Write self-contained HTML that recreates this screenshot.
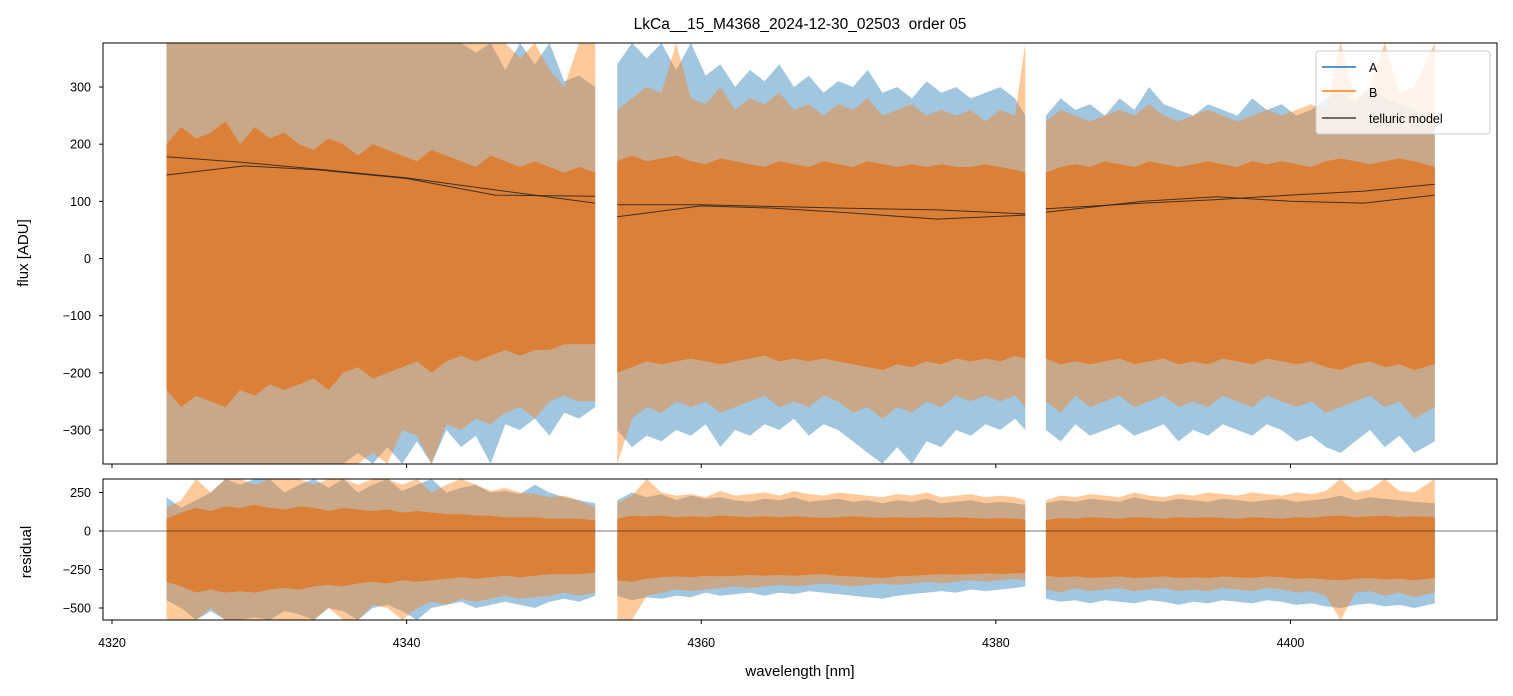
<!DOCTYPE html>
<html><head><meta charset="utf-8"><style>
body{margin:0;background:#fff;}
svg{display:block;font-family:"Liberation Sans","DejaVu Sans",sans-serif;}
</style></head><body>
<svg id="chart" width="1513" height="696" viewBox="0 0 1513 696" xmlns="http://www.w3.org/2000/svg">
<defs>
<clipPath id="clipTop"><rect x="103" y="43" width="1394" height="421"/></clipPath>
<clipPath id="clipBot"><rect x="103" y="479" width="1394" height="141"/></clipPath>
</defs>
<text x="800" y="29" font-size="15.5" text-anchor="middle" style="white-space:pre">LkCa__15_M4368_2024-12-30_02503  order 05</text>
<g id="topPanel" clip-path="url(#clipTop)"></g>
<g id="botPanel" clip-path="url(#clipBot)"></g>
<g id="axes"></g>
<text transform="translate(28,253) rotate(-90)" font-size="15" text-anchor="middle">flux [ADU]</text>
<text transform="translate(31,552) rotate(-90)" font-size="15" text-anchor="middle">residual</text>
<text x="800" y="676" font-size="15" text-anchor="middle">wavelength [nm]</text>
<g>
<rect x="1316" y="51" width="174" height="83" rx="3" fill="#fff" fill-opacity="0.8" stroke="#ccc"/>
<line x1="1322" y1="67" x2="1356" y2="67" stroke="#1f77b4" stroke-width="1.5"/>
<text x="1369" y="72" font-size="12.5">A</text>
<line x1="1322" y1="91" x2="1356" y2="91" stroke="#ff7f0e" stroke-width="1.5"/>
<text x="1369" y="97" font-size="12.5">B</text>
<line x1="1322" y1="118" x2="1356" y2="118" stroke="#444" stroke-width="1.5"/>
<text x="1369" y="123" font-size="12.5">telluric model</text>
</g>
</svg>
<script>
// segments: start, end wavelength (nm)
const segStart = [4323.7, 4354.3, 4383.4];
const segEnd = [4352.8, 4382.0, 4409.8];
// top panel envelopes (ADU), 1 nm bins per segment
const aHi = [
[377,377,377,377,377,377,377,377,377,377,377,377,377,377,377,377,377,377,377,377,377,360,377,330,377,340,377,310,320,300],
[340,377,350,377,330,377,320,340,300,330,310,340,300,320,290,310,300,330,290,300,280,310,290,300,280,290,300,280,250],
[250,280,260,270,250,280,260,300,270,260,250,270,260,250,280,260,270,250,260,280,290,270,300,280,270,260,250]];
const aLo = [
[-359,-359,-359,-359,-359,-359,-359,-359,-359,-359,-359,-359,-359,-340,-359,-330,-359,-320,-359,-300,-330,-310,-359,-290,-300,-280,-310,-270,-280,-260],
[-300,-330,-310,-320,-300,-310,-290,-330,-300,-310,-290,-300,-280,-310,-290,-300,-320,-340,-359,-330,-359,-320,-330,-300,-310,-290,-300,-280,-300],
[-300,-320,-290,-310,-300,-290,-310,-300,-290,-320,-300,-310,-290,-300,-310,-290,-300,-320,-310,-330,-340,-320,-300,-330,-310,-340,-320]];
const bHi = [
[377,377,377,377,377,377,377,377,377,377,377,377,377,377,377,377,377,377,377,377,377,377,377,377,350,377,330,300,377,377],
[260,280,300,290,377,280,270,300,260,280,270,290,260,270,250,270,260,280,250,260,270,250,260,250,260,240,260,250,377],
[240,260,250,240,250,260,250,270,250,240,250,260,250,240,250,260,250,260,270,260,377,280,300,377,290,300,377]];
const bLo = [
[-359,-359,-359,-359,-359,-359,-359,-359,-359,-359,-359,-359,-359,-359,-340,-359,-300,-310,-359,-290,-300,-280,-290,-270,-260,-280,-250,-240,-250,-250],
[-359,-280,-260,-270,-250,-260,-250,-270,-260,-250,-240,-260,-250,-260,-240,-250,-270,-260,-280,-260,-270,-250,-260,-240,-250,-240,-250,-240,-260],
[-250,-270,-240,-260,-250,-240,-260,-250,-240,-260,-250,-260,-240,-250,-260,-240,-250,-260,-250,-270,-260,-250,-240,-260,-250,-280,-260]];
const cHi = [
[200,230,210,220,240,200,230,210,220,200,190,210,200,180,200,190,180,170,190,180,170,160,180,170,160,170,160,150,160,150],
[170,180,170,175,180,170,165,175,170,165,160,170,165,160,170,165,160,170,165,160,165,160,165,160,160,165,160,155,150],
[150,160,165,160,170,165,160,170,165,160,165,170,165,160,170,165,170,165,160,170,175,170,165,170,175,170,160]];
const cLo = [
[-230,-260,-240,-250,-260,-230,-240,-220,-230,-220,-210,-230,-200,-190,-210,-200,-190,-180,-200,-180,-170,-180,-170,-160,-170,-160,-160,-150,-150,-150],
[-200,-190,-180,-185,-180,-175,-180,-185,-180,-175,-170,-180,-175,-180,-175,-180,-185,-190,-195,-185,-190,-180,-185,-175,-180,-175,-180,-170,-175],
[-175,-185,-180,-185,-180,-175,-185,-180,-175,-185,-180,-185,-175,-180,-185,-175,-180,-185,-180,-190,-195,-185,-180,-190,-185,-195,-185]];
// residual envelopes
const rAHi = [
[220,150,200,250,338,300,338,338,250,300,338,280,338,250,300,338,260,300,338,250,280,300,250,260,240,300,250,220,200,180],
[200,250,220,240,200,230,210,220,200,190,210,200,220,190,200,210,190,200,180,200,190,210,180,190,200,180,190,180,170],
[180,200,190,210,200,190,220,200,190,210,200,190,210,200,190,200,210,190,200,210,230,200,220,210,200,190,180]];
const rALo = [
[-450,-500,-578,-520,-578,-578,-560,-578,-520,-540,-578,-500,-520,-578,-500,-480,-520,-578,-500,-480,-460,-500,-480,-460,-480,-500,-460,-440,-460,-420],
[-420,-450,-430,-440,-420,-430,-400,-420,-410,-400,-420,-400,-410,-390,-400,-410,-420,-430,-440,-420,-410,-400,-390,-400,-380,-390,-380,-370,-360],
[-440,-460,-450,-470,-450,-460,-470,-450,-460,-480,-460,-470,-450,-460,-470,-450,-460,-480,-470,-490,-500,-480,-470,-490,-480,-500,-470]];
const rBHi = [
[150,200,338,250,338,338,300,338,338,338,300,338,338,300,338,338,300,338,250,300,338,300,260,280,250,240,220,230,200,150],
[180,230,338,250,230,240,220,260,230,240,250,230,260,240,230,250,240,230,220,240,230,250,220,230,240,220,230,220,200],
[200,230,220,240,230,220,250,230,220,240,230,250,240,230,250,240,230,250,240,260,338,250,270,338,260,250,338]];
const rBLo = [
[-578,-578,-578,-500,-578,-578,-578,-578,-578,-578,-578,-500,-578,-578,-480,-500,-578,-500,-460,-480,-440,-460,-440,-420,-440,-430,-420,-400,-420,-400],
[-578,-578,-420,-400,-380,-390,-380,-370,-360,-370,-360,-350,-360,-350,-340,-350,-360,-350,-340,-350,-340,-330,-340,-330,-320,-330,-320,-310,-320],
[-380,-400,-370,-390,-380,-370,-390,-380,-370,-390,-380,-390,-370,-380,-390,-370,-380,-400,-390,-420,-578,-400,-390,-420,-400,-430,-400]];
const rCHi = [
[80,120,150,130,160,150,170,150,140,160,150,130,150,140,130,140,120,130,120,110,110,100,100,90,90,90,80,80,80,70],
[80,100,95,100,90,95,90,100,95,90,95,90,95,90,85,90,95,90,85,90,85,90,85,90,85,80,85,80,75],
[70,85,80,90,85,80,90,85,80,90,85,90,85,80,90,85,80,90,85,95,100,90,95,100,90,95,90]];
const rCLo = [
[-330,-360,-400,-380,-400,-390,-400,-380,-370,-380,-360,-350,-360,-340,-330,-340,-320,-330,-320,-310,-300,-310,-300,-290,-300,-290,-280,-280,-280,-270],
[-320,-330,-310,-300,-295,-300,-290,-295,-290,-285,-290,-285,-290,-285,-280,-290,-295,-300,-305,-295,-290,-285,-280,-285,-280,-275,-280,-275,-270],
[-290,-300,-295,-305,-300,-295,-305,-300,-295,-305,-300,-305,-295,-300,-305,-295,-300,-310,-305,-315,-320,-310,-305,-315,-310,-320,-305]];
// telluric model knots
const tellWl = [[4323.7,4329,4334,4340,4346,4352.8],[4354.3,4360,4365,4370,4376,4382.0],[4383.4,4390,4395,4400,4405,4409.8]];
const tell1 = [[178,168,156,141,120,97],[73,92,88,80,69,76],[81,100,108,100,97,111]];
const tell2 = [[146,162,155,140,111,109],[94,94,91,88,85,78],[87,97,103,111,118,130]];
const xTicks = [4320,4340,4360,4380,4400];
const yTicksTop = [300,200,100,0,-100,-200,-300];
const yTicksBot = [250,0,-250,-500];

const NS='http://www.w3.org/2000/svg';
const X0=103,X1=1497, XMIN=4319.39, XMAX=4414.02;
const xs = w => X0+(w-XMIN)/(XMAX-XMIN)*(X1-X0);
const yTop = v => 43+(377-v)/(377+359.5)*421;
const yBot = v => 479+(338-v)/(338+578)*141;
function el(tag, attrs, parent){const e=document.createElementNS(NS,tag);for(const k in attrs)e.setAttribute(k,attrs[k]);parent.appendChild(e);return e;}
function grid(s){const g=[];let w=segStart[s];while(w<segEnd[s]-0.5){g.push(w);w+=1;}g.push(segEnd[s]);return g;}
function band(parent, s, hi, lo, ys, fill, op, name){
  const g=grid(s);const n=Math.min(g.length,hi[s].length);let pts=[];
  for(let i=0;i<n;i++)pts.push(xs(g[i]).toFixed(1)+','+ys(hi[s][i]).toFixed(1));
  for(let i=n-1;i>=0;i--)pts.push(xs(g[i]).toFixed(1)+','+ys(lo[s][i]).toFixed(1));
  const p=el('polygon',{points:pts.join(' '),fill:fill,'fill-opacity':op},parent);
  
  
}
const topG=document.getElementById('topPanel'), botG=document.getElementById('botPanel'), axes=document.getElementById('axes');
for(let s=0;s<3;s++){
  band(topG,s,aHi,aLo,yTop,'#1f77b4',0.42,'series-a-envelope');
  band(topG,s,bHi,bLo,yTop,'#ff7f0e',0.42,'series-b-envelope');
  band(topG,s,cHi,cLo,yTop,'#dd7d30',0.92,'series-core');
  band(botG,s,rAHi,rALo,yBot,'#1f77b4',0.42,'residual-a-envelope');
  band(botG,s,rBHi,rBLo,yBot,'#ff7f0e',0.42,'residual-b-envelope');
  band(botG,s,rCHi,rCLo,yBot,'#dd7d30',0.92,'residual-core');
  [tell1,tell2].forEach(t=>{
    const pts=tellWl[s].map((w,i)=>xs(w).toFixed(1)+','+yTop(t[s][i]).toFixed(1)).join(' ');
    const l=el('polyline',{points:pts,fill:'none',stroke:'#222','stroke-width':1,'stroke-opacity':0.85},topG);
    
    
  });
}
const zl=el('line',{x1:X0,x2:X1,y1:yBot(0),y2:yBot(0),stroke:'#222','stroke-width':0.7,'stroke-opacity':0.8},botG);


el('rect',{x:X0,y:43,width:X1-X0,height:421,fill:'none',stroke:'#000','stroke-width':1},axes);
el('rect',{x:X0,y:479,width:X1-X0,height:141,fill:'none',stroke:'#000','stroke-width':1},axes);
xTicks.forEach(t=>{
  const x=xs(t);
  el('line',{x1:x,x2:x,y1:464,y2:468,stroke:'#000'},axes);
  el('line',{x1:x,x2:x,y1:620,y2:624,stroke:'#000'},axes);
  const tx=el('text',{x:x,y:647,'font-size':12.5,'text-anchor':'middle'},axes);tx.textContent=t;
  
  
});
yTicksTop.forEach(t=>{
  const y=yTop(t);
  el('line',{x1:99,x2:103,y1:y,y2:y,stroke:'#000'},axes);
  const tx=el('text',{x:91,y:y+4.5,'font-size':12.5,'text-anchor':'end'},axes);tx.textContent=(t<0?'\u2212':'')+Math.abs(t);
  
  
});
yTicksBot.forEach(t=>{
  const y=yBot(t);
  el('line',{x1:99,x2:103,y1:y,y2:y,stroke:'#000'},axes);
  const tx=el('text',{x:91,y:y+4.5,'font-size':12.5,'text-anchor':'end'},axes);tx.textContent=(t<0?'\u2212':'')+Math.abs(t);
  
  
});
</script>
</body></html>
